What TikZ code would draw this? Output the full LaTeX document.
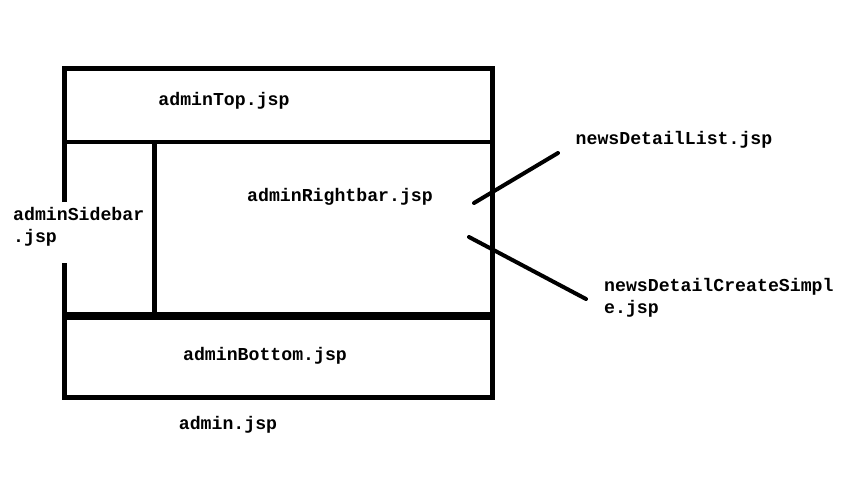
\documentclass[tikz,border=0pt]{standalone}
\usepackage{fontspec}
\newfontfamily\jspfont{Liberation Mono}
\usetikzlibrary{positioning}
\tikzset{
  jsp/.style={font=\jspfont\bfseries\fontsize{18.2}{22.5}\selectfont, inner sep=0pt},
  frameline/.style={line width=5pt},
  pointer/.style={line width=4pt, line cap=round},
}
\begin{document}
\begin{tikzpicture}[x=1pt,y=-1pt]
  \useasboundingbox (0,0) rectangle (846,482);
  % Page frame (left edge left open for the sidebar label)
  \draw[frameline] (64,202) -- (64,68) -- (492,68) -- (492,397) -- (64,397) -- (64,263);
  \draw[line width=4.5pt] (64,142) -- (492,142);
  \draw[frameline] (154,142) -- (154,316);
  \draw[line width=8pt] (64,316) -- (492,316);

  % Included pages
  \node[jsp] (top) at (224,101) {adminTop.jsp};
  \node[jsp] (rightbar) at (340,197) {adminRightbar.jsp};
  \node[jsp, align=left, anchor=west] (sidebar) at (13,227) {adminSidebar\\.jsp};
  \node[jsp] (bottom) at (265,356) {adminBottom.jsp};
  \node[jsp] (admin) at (228,425) {admin.jsp};

  % Pages loaded into the right bar
  \node[jsp] (list) at (674,140) {newsDetailList.jsp};
  \node[jsp, align=left, anchor=west] (create) at (604,298) {newsDetailCreateSimpl\\e.jsp};
  \coordinate (list in) at (474,203);
  \coordinate (list out) at (558,153);
  \coordinate (create in) at (469,237);
  \coordinate (create out) at (586,299);
  \draw[pointer] (list in) -- (list out);
  \draw[pointer] (create in) -- (create out);
\end{tikzpicture}
\end{document}
